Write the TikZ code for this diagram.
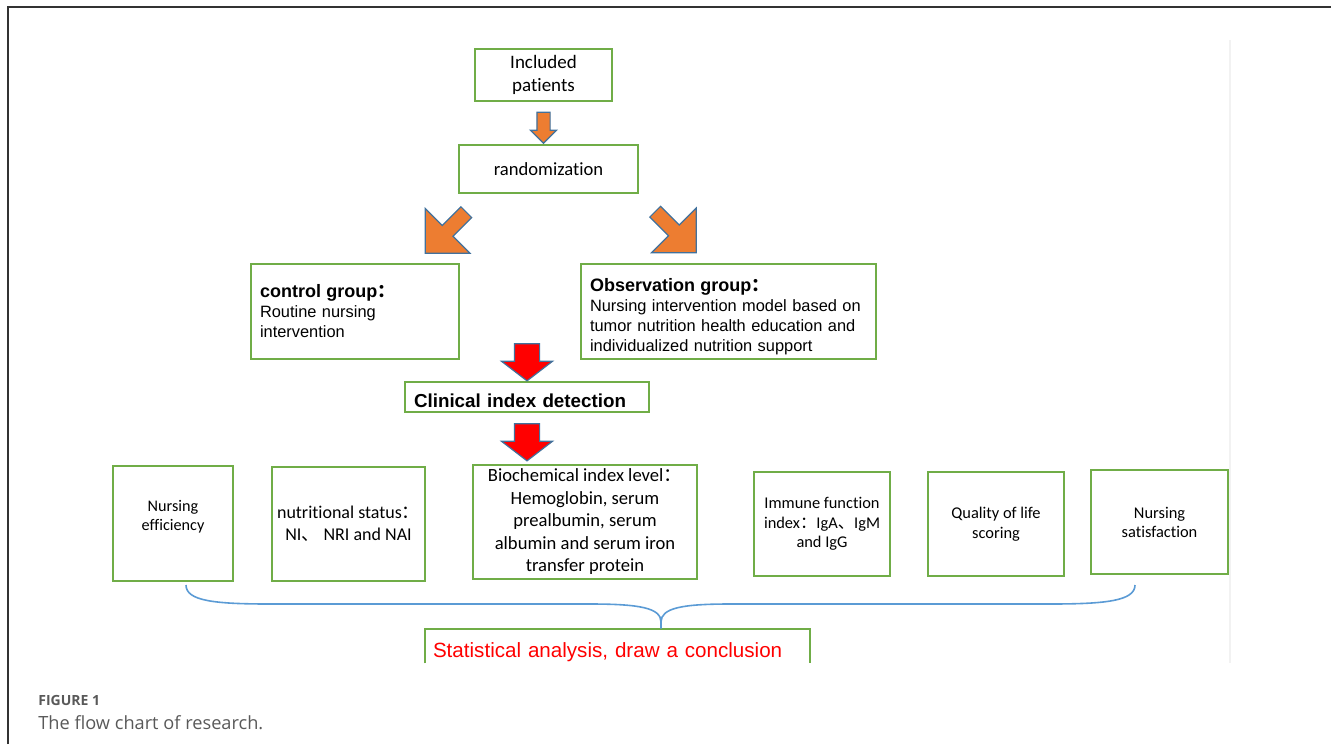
\documentclass[tikz,border=0pt]{standalone}
\usepackage{fontspec}
\usepackage{xcolor}
\usepackage{tikz}
\usetikzlibrary{shapes.arrows}

\newfontfamily\calfont{Carlito}[Ligatures=NoCommon]
\newfontfamily\arfont{Liberation Sans}
\newfontfamily\capfont{Open Sans}
\newfontfamily\cjk{Noto Sans CJK SC}

\definecolor{boxgreen}{HTML}{70AD47}
\definecolor{arroworange}{HTML}{ED7D31}
\definecolor{arrowblue}{HTML}{41719C}
\definecolor{braceblue}{HTML}{5B9BD5}
\definecolor{framegray}{HTML}{333333}
\definecolor{capgray}{HTML}{595959}

\begin{document}
\begin{tikzpicture}[x=0.5pt,y=-0.5pt,
    box/.style={draw=boxgreen, line width=1pt, inner sep=0pt, align=center},
    orangearrow/.style={single arrow, draw=arrowblue, fill=arroworange, line width=0.6pt, inner xsep=0pt},
    redarrow/.style={single arrow, draw=arrowblue, fill=red, line width=0.6pt, inner xsep=0pt}]
  \useasboundingbox (0,0) rectangle (1331,744);
  \draw[framegray, line width=1pt] (8,744) -- (8,7) -- (1331,7);
  \draw[black!5, line width=0.6pt] (1230,40) -- (1230,663);

  % top of the chart
  \node[box, minimum width=68.5pt, minimum height=26pt,
    font=\calfont\fontsize{9.5}{11.5}\selectfont] (incl) at (543.5,75) {Included\\patients};
  \node[box, minimum width=89.5pt, minimum height=24pt,
    font=\calfont\fontsize{9.3}{11}\selectfont] (rand) at (548.5,169) {randomization};
  \node[orangearrow, rotate=-90, minimum height=15.5pt, inner ysep=3pt,
    single arrow head extend=3.25pt] (a1) at ([yshift=-11.25pt]incl.south) {};
  \node[orangearrow, rotate=-135, minimum height=29pt, inner ysep=3.5pt,
    single arrow head extend=12pt] (a2) at ([xshift=-50pt,yshift=-18pt]rand.south) {};
  \node[orangearrow, rotate=-45, minimum height=29pt, inner ysep=3.5pt,
    single arrow head extend=12pt] (a3) at ([xshift=62.25pt,yshift=-17.75pt]rand.south) {};

  % the two groups
  \node[box, minimum width=104pt, minimum height=47.5pt, text width=95pt, align=left,
    font=\arfont\fontsize{8.2}{10}\selectfont] (ctrl) at (355,311.5)
    {{\bfseries\fontsize{9}{10}\selectfont control group{\cjk ：}}\\Routine nursing\\intervention};
  \node[box, minimum width=147.5pt, minimum height=47.5pt, text width=138.5pt, align=left,
    text height=11.5pt, font=\arfont\fontsize{8.2}{10}\selectfont] (obs) at (728.5,311.5)
    {{\bfseries\fontsize{9}{10.5}\selectfont Observation group{\cjk ：}}\\Nursing intervention model based on\\tumor nutrition health education and\\individualized nutrition support};

  \node[box, minimum width=122pt, minimum height=15pt, text width=113pt, align=left,
    text height=10.9pt, font=\arfont\bfseries\fontsize{9.4}{11}\selectfont] (clin) at (527,397) {Clinical index detection};
  \node[redarrow, rotate=-90, minimum height=18.5pt, inner ysep=6pt,
    single arrow head extend=6.5pt, single arrow tip angle=105] (r1) at ([yshift=11.75pt]clin.north) {};
  \node[redarrow, rotate=-90, minimum height=18.5pt, inner ysep=6pt,
    single arrow head extend=6.5pt, single arrow tip angle=105] (r2) at ([yshift=-12.25pt]clin.south) {};

  % indexes
  \node[box, minimum width=60pt, minimum height=57.5pt, text depth=8pt,
    font=\calfont\fontsize{8.1}{9.5}\selectfont] (eff) at (173,523.5) {Nursing\\efficiency};
  \node[box, minimum width=76.5pt, minimum height=57pt,
    font=\calfont\fontsize{9}{11}\selectfont] (nutr) at (348.5,524)
    {nutritional status{\cjk ：}\\NI{\cjk 、} NRI and NAI};
  \node[box, minimum width=112pt, minimum height=57pt,
    font=\calfont\fontsize{9.3}{11.25}\selectfont] (bio) at (585,522)
    {Biochemical index level{\cjk ：}\\Hemoglobin, serum\\prealbumin, serum\\albumin and serum iron\\transfer protein};
  \node[box, minimum width=68pt, minimum height=52pt,
    font=\calfont\fontsize{8.2}{9.75}\selectfont] (imm) at (822,524)
    {Immune function\\index{\cjk ：}IgA{\cjk 、}IgM\\and IgG};
  \node[box, minimum width=68pt, minimum height=52pt,
    font=\calfont\fontsize{8.2}{10}\selectfont] (qual) at (996,524) {Quality of life\\scoring};
  \node[box, minimum width=68.5pt, minimum height=52pt,
    font=\calfont\fontsize{8.2}{9.5}\selectfont] (sat) at (1159.5,522) {Nursing\\satisfaction};

  % conclusion
  \node[minimum width=192.5pt, minimum height=17pt, inner sep=0pt, text width=184.5pt, align=left,
    text height=13.5pt, text=red, font=\arfont\fontsize{10.3}{12}\selectfont] (stat) at (617.5,646)
    {Statistical analysis, draw a conclusion};
  \draw[boxgreen, line width=1pt] (stat.south west) -- (stat.north west) -- (stat.north east) -- (stat.south east);

  \coordinate (bl) at (186,585);
  \coordinate (br) at (1135,585);
  \coordinate (tip) at (661,622);
  \draw[braceblue, line width=0.8pt] (bl) .. controls (186,601) and (215,604) .. (270,604) -- (590,604)
    .. controls (640,604) and (661,608) .. (tip) -- (tip |- stat.north);
  \draw[braceblue, line width=0.8pt] (br) .. controls (1135,601) and (1105,604) .. (1050,604) -- (730,604)
    .. controls (682,604) and (661,608) .. (tip);

  % caption
  \node[anchor=base west, inner sep=0pt, text=capgray, font=\capfont\bfseries\fontsize{7}{8}\selectfont] (fig) at (38,705) {FIGURE 1};
  \node[anchor=base west, inner sep=0pt, text=capgray, font=\capfont\fontsize{9.1}{11}\selectfont] (cap) at (38,729) {The flow chart of research.};
\end{tikzpicture}
\end{document}
